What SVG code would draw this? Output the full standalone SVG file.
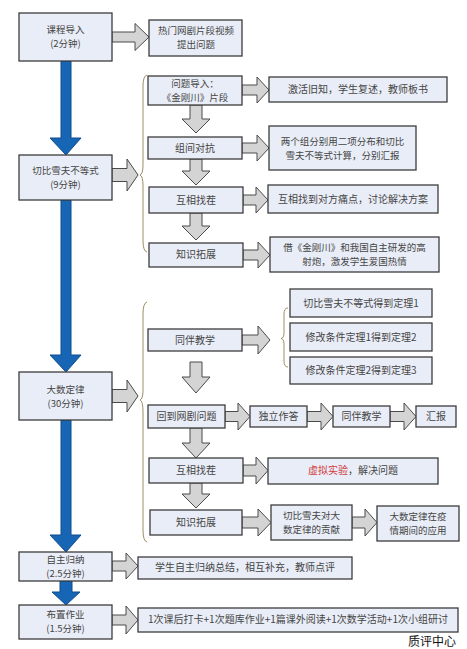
<svg xmlns="http://www.w3.org/2000/svg" width="467" height="649" viewBox="0 0 467 649">
<style>
.box{fill:#e9edf7;stroke:#3c3c3c;stroke-width:1.3}
.t{font-family:"Noto Sans CJK SC","Noto Sans",sans-serif;font-size:10px;fill:#454545;text-anchor:middle}
.t2{font-size:9.5px}
.ga{fill:#d4d4d4;stroke:#4a4a4a;stroke-width:1}
.ba{fill:#1766b6;stroke:#0e4d8e;stroke-width:1}
.br{fill:none;stroke:#a08c62;stroke-width:1}
.red{fill:#d23c3c}
.wm{font-family:"Noto Sans CJK SC",sans-serif;font-size:12px;fill:#111}
</style>
<rect width="467" height="649" fill="#ffffff"/>
<g id="connectors">
<polygon class="ba" points="61,61 71,61 71,138 81,138 66,155 50,138 61,138"/>
<polygon class="ba" points="61,200 71,200 71,355 81,355 66,372 50,355 61,355"/>
<polygon class="ba" points="61,420 71,420 71,535 81,535 66,552 50,535 61,535"/>
<polygon class="ba" points="60,581 72,581 72,592 80,592 66,605 52,592 60,592"/>
<polygon class="ga" points="112,32 135,32 135,23.5 149,37 135,50.5 135,42 112,42"/>
<polygon class="ga" points="112,168.5 127,168.5 127,159 138,175 127,191 127,181.5 112,181.5"/>
<polygon class="ga" points="112,389.5 127,389.5 127,380 138,396 127,412 127,402.5 112,402.5"/>
<polygon class="ga" points="112,561 126,561 126,553 138,566 126,579 126,571 112,571"/>
<polygon class="ga" points="112,615 126,615 126,606 138,620 126,634 126,625 112,625"/>
<polygon class="ga" points="242,85 257,85 257,77 269,90 257,103 257,95 242,95"/>
<polygon class="ga" points="242,143 257,143 257,135 269,148 257,161 257,153 242,153"/>
<polygon class="ga" points="243,195 256,195 256,187 268,200 256,213 256,205 243,205"/>
<polygon class="ga" points="243,250 258,250 258,242 270,255 258,268 258,260 243,260"/>
<polygon class="ga" points="242,335 258,335 258,326 270,340 258,354 258,345 242,345"/>
<polygon class="ga" points="225,411.5 238,411.5 238,403 250,416.5 238,430 238,421.5 225,421.5"/>
<polygon class="ga" points="307,411.5 321,411.5 321,403 333,416.5 321,430 321,421.5 307,421.5"/>
<polygon class="ga" points="390,411.5 404,411.5 404,403 416,416.5 404,430 404,421.5 390,421.5"/>
<polygon class="ga" points="243,465 256,465 256,457 268,470.5 256,484 256,476 243,476"/>
<polygon class="ga" points="242,517 258,517 258,509 271,522.5 258,536 258,528 242,528"/>
<polygon class="ga" points="352,517 365,517 365,509 377,522.5 365,536 365,528 352,528"/>
<polygon class="ga" points="190,105 202,105 202,119 210,119 196,133 182,119 190,119"/>
<polygon class="ga" points="190,159 202,159 202,171 210,171 196,185 182,171 190,171"/>
<polygon class="ga" points="190,213 202,213 202,226 210,226 196,240 182,226 190,226"/>
<polygon class="ga" points="190,362 202,362 202,377 210,377 196,393 182,377 190,377"/>
<polygon class="ga" points="190,428 202,428 202,443 210,443 196,458 182,443 190,443"/>
<polygon class="ga" points="190,483 202,483 202,494 210,494 196,508 182,494 190,494"/>
<path class="br" d="M147,75 Q143,76 143,86 L143,165 Q143,174 140,175 Q143,176 143,186 L143,241 Q143,251 147,252"/>
<path class="br" d="M147,302 Q143,303 143,314 L143,390 Q143,399 140,400 Q143,401 143,412 L143,530 Q143,541 147,542"/>
<path class="br" d="M288,308 Q284,308 284,314 L284,333 Q284,338 281,338.5 Q284,339 284,344 L284,361 Q284,367 288,367"/>
</g>
<g id="n_kecheng"><rect class="box" x="19" y="13" width="93" height="48"/><text class="t t2" x="65.5" y="33">课程导入</text><text class="t t2" x="65.5" y="47">(2分钟)</text></g>
<g id="n_remen"><rect class="box" x="149" y="20" width="93" height="36"/><text class="t t2" x="196" y="34">热门网剧片段视频</text><text class="t t2" x="196" y="48">提出问题</text></g>
<g id="n_qiebi"><rect class="box" x="19" y="155" width="93" height="45"/><text class="t t2" x="65.5" y="174">切比雪夫不等式</text><text class="t t2" x="65.5" y="188">(9分钟)</text></g>
<g id="n_wenti"><rect class="box" x="148" y="76" width="94" height="29"/><text class="t t2" x="195" y="87">问题导入：</text><text class="t t2" x="195" y="101">《金刚川》片段</text></g>
<g id="n_jihuo"><rect class="box" x="269" y="77" width="178" height="25"/><text class="t" x="358" y="93">激活旧知，学生复述，教师板书</text></g>
<g id="n_zujian"><rect class="box" x="148" y="137" width="94" height="22"/><text class="t" x="195" y="152">组间对抗</text></g>
<g id="n_liangge"><rect class="box" x="269" y="126" width="147" height="44"/><text class="t t2" x="342.5" y="144.5">两个组分别用二项分布和切比</text><text class="t t2" x="342.5" y="158.5">雪夫不等式计算，分别汇报</text></g>
<g id="n_huxiang1"><rect class="box" x="149" y="187" width="94" height="26"/><text class="t" x="196" y="204">互相找茬</text></g>
<g id="n_tongdian"><rect class="box" x="268" y="185" width="170" height="28"/><text class="t" x="353" y="203">互相找到对方痛点，讨论解决方案</text></g>
<g id="n_zhishi1"><rect class="box" x="149" y="243" width="94" height="24"/><text class="t" x="196" y="258">知识拓展</text></g>
<g id="n_jie"><rect class="box" x="270" y="237" width="169" height="35"/><text class="t t2" x="354.5" y="251">借《金刚川》和我国自主研发的高</text><text class="t t2" x="354.5" y="265">射炮，激发学生爱国热情</text></g>
<g id="n_dashu"><rect class="box" x="19" y="372" width="93" height="48"/><text class="t t2" x="65.5" y="392.5">大数定律</text><text class="t t2" x="65.5" y="406.5">(30分钟)</text></g>
<g id="n_tongban1"><rect class="box" x="148" y="329" width="94" height="22"/><text class="t" x="195" y="344">同伴教学</text></g>
<g id="n_dingli1"><rect class="box" x="290" y="289" width="142" height="28"/><text class="t" x="361" y="307">切比雪夫不等式得到定理1</text></g>
<g id="n_dingli2"><rect class="box" x="290" y="323" width="142" height="28"/><text class="t" x="361" y="341">修改条件定理1得到定理2</text></g>
<g id="n_dingli3"><rect class="box" x="290" y="357" width="142" height="27"/><text class="t" x="361" y="374">修改条件定理2得到定理3</text></g>
<g id="n_huidao"><rect class="box" x="148" y="405" width="77" height="23"/><text class="t" x="186.5" y="420">回到网剧问题</text></g>
<g id="n_duli"><rect class="box" x="250" y="406" width="57" height="21"/><text class="t" x="278.5" y="420">独立作答</text></g>
<g id="n_tongban2"><rect class="box" x="333" y="406" width="57" height="21"/><text class="t" x="361.5" y="420">同伴教学</text></g>
<g id="n_huibao"><rect class="box" x="416" y="406" width="40" height="21"/><text class="t" x="436" y="420">汇报</text></g>
<g id="n_huxiang2"><rect class="box" x="149" y="458" width="94" height="25"/><text class="t" x="196" y="474">互相找茬</text></g>
<g id="n_xuni"><rect class="box" x="268" y="458" width="170" height="26"/><text class="t" x="353" y="474"><tspan class="red">虚拟实验</tspan>，解决问题</text></g>
<g id="n_zhishi2"><rect class="box" x="150" y="510" width="92" height="25"/><text class="t" x="196" y="526">知识拓展</text></g>
<g id="n_gongxian"><rect class="box" x="271" y="505" width="81" height="35"/><text class="t t2" x="311.5" y="519">切比雪夫对大</text><text class="t t2" x="311.5" y="533">数定律的贡献</text></g>
<g id="n_yiqing"><rect class="box" x="377" y="506" width="82" height="35"/><text class="t t2" x="418" y="520">大数定律在疫</text><text class="t t2" x="418" y="534">情期间的应用</text></g>
<g id="n_zizhu"><rect class="box" x="19" y="552" width="93" height="29"/><text class="t t2" x="65.5" y="563">自主归纳</text><text class="t t2" x="65.5" y="577">(2.5分钟)</text></g>
<g id="n_xuesheng"><rect class="box" x="138" y="557" width="214" height="22"/><text class="t" x="245" y="571">学生自主归纳总结，相互补充，教师点评</text></g>
<g id="n_buzhi"><rect class="box" x="19" y="605" width="93" height="34"/><text class="t t2" x="65.5" y="618">布置作业</text><text class="t t2" x="65.5" y="632">(1.5分钟)</text></g>
<g id="n_zuoye"><rect class="box" x="138" y="608" width="320" height="24"/><text class="t" x="298" y="623">1次课后打卡+1次题库作业+1篇课外阅读+1次数学活动+1次小组研讨</text></g>
<text class="wm" x="408" y="646">质评中心</text>
</svg>
